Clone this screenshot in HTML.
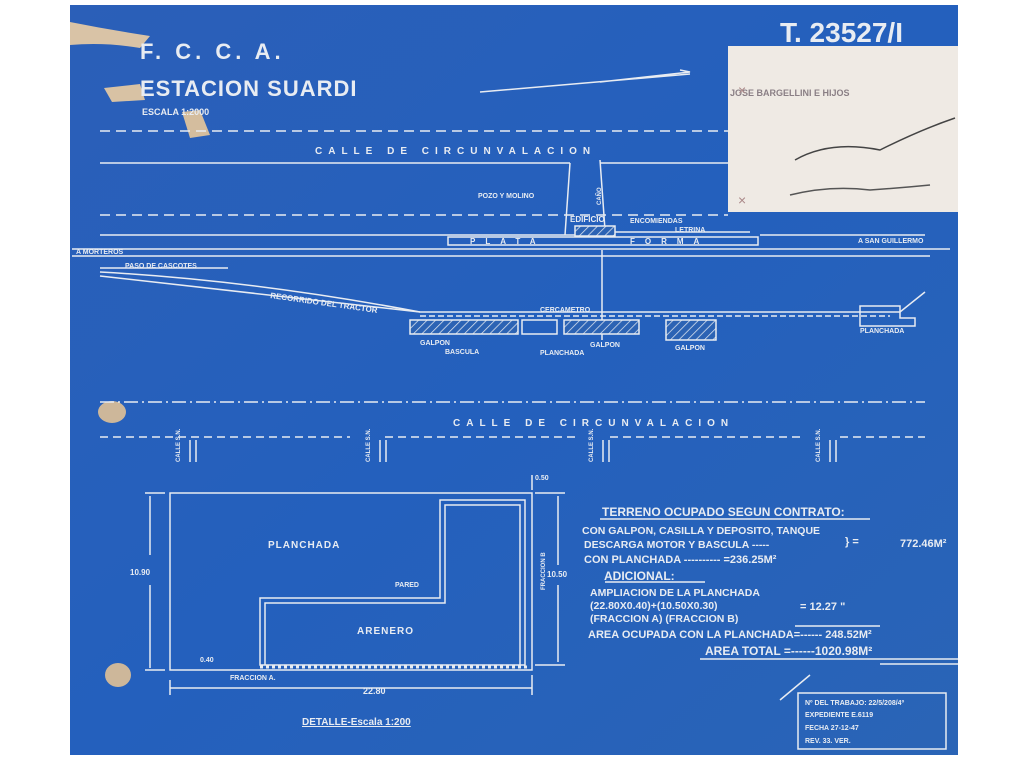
<!DOCTYPE html>
<html><head><meta charset="utf-8"><style>
html,body{margin:0;padding:0;background:#fff;width:1024px;height:759px;overflow:hidden}
svg{display:block}
text{font-family:"Liberation Sans",sans-serif;fill:#e8ecf2;font-weight:bold}
</style></head><body>
<svg width="1024" height="759" viewBox="0 0 1024 759">
<defs>
<pattern id="h" width="6" height="6" patternUnits="userSpaceOnUse" patternTransform="rotate(45)"><rect width="6" height="6" fill="#2c63b4"/><line x1="0" y1="0" x2="0" y2="6" stroke="#dfe6f0" stroke-width="1.5"/></pattern>
<linearGradient id="bg" x1="0" y1="0" x2="1" y2="1"><stop offset="0" stop-color="#2b5fb8"/><stop offset="0.5" stop-color="#2460bd"/><stop offset="1" stop-color="#2a64b6"/></linearGradient>
</defs>
<rect x="70" y="5" width="888" height="750" fill="url(#bg)"/>
<!-- tears -->
<path d="M70 22 Q110 30 150 36 L140 48 Q105 42 70 45Z" fill="#d9c3a6"/>
<path d="M104 88 L140 84 L145 100 L112 102Z" fill="#d8c2a4"/>
<path d="M182 112 L200 110 L210 135 L190 138Z" fill="#d4bd9e"/>
<ellipse cx="112" cy="412" rx="14" ry="11" fill="#cdb79a"/>
<ellipse cx="118" cy="675" rx="13" ry="12" fill="#cdb79a"/>
<!-- white label card -->
<rect x="728" y="46" width="230" height="166" fill="#efeae4"/>
<text x="730" y="96" font-size="9" style="fill:#8a7f85">JOSE BARGELLINI E HIJOS</text>
<path d="M795 160 Q830 140 880 150 Q920 130 955 118" stroke="#444" stroke-width="1.5" fill="none"/>
<path d="M790 195 Q830 185 870 190 Q900 188 930 185" stroke="#555" stroke-width="1.5" fill="none"/>
<text x="738" y="95" font-size="14" style="fill:#a88;font-weight:normal">×</text>
<text x="738" y="205" font-size="14" style="fill:#a88;font-weight:normal">×</text>
<text x="780" y="42" font-size="28">T. 23527/I</text>
<text x="140" y="59" font-size="22" letter-spacing="4">F. C. C. A.</text>
<text x="140" y="96" font-size="22" letter-spacing="1">ESTACION SUARDI</text>
<text x="142" y="115" font-size="9">ESCALA 1:2000</text>
<path d="M480 92 L690 74 M600 82 L690 72 L680 70" stroke="#e8ecf2" stroke-width="1.5" fill="none"/>
<g stroke="#e8ecf2" stroke-width="1.5" fill="none">
<line x1="100" y1="131" x2="728" y2="131" stroke-dasharray="10 6"/>
<line x1="100" y1="163" x2="570" y2="163"/>
<line x1="600" y1="163" x2="728" y2="163"/>
<line x1="100" y1="215" x2="728" y2="215" stroke-dasharray="10 6"/>
<path d="M570 163 L565 235 M600 160 L605 230"/>
<line x1="100" y1="235" x2="575" y2="235"/>
<line x1="610" y1="232" x2="750" y2="232"/>
<line x1="760" y1="235" x2="925" y2="235"/>
<rect x="448" y="237" width="310" height="8"/>
<rect x="575" y="226" width="40" height="10" fill="url(#h)"/>
<line x1="72" y1="249" x2="950" y2="249"/>
<line x1="72" y1="256" x2="930" y2="256"/>
<line x1="100" y1="268" x2="228" y2="268"/>
<path d="M100 272 Q250 280 420 312 L900 312 L925 292"/>
<line x1="100" y1="276" x2="420" y2="312"/>
<line x1="420" y1="316" x2="890" y2="316" stroke-dasharray="6 3"/>
<path d="M860 306 L900 306 L900 318 L915 318 L915 326 L860 326Z"/>
<line x1="602" y1="250" x2="602" y2="340"/>
<rect x="410" y="320" width="108" height="14" fill="url(#h)"/>
<rect x="522" y="320" width="35" height="14"/>
<rect x="564" y="320" width="75" height="14" fill="url(#h)"/>
<rect x="666" y="320" width="50" height="20" fill="url(#h)"/>
<line x1="100" y1="402" x2="925" y2="402" stroke-dasharray="14 4 2 4"/>
<path d="M100 437 L350 437 M385 437 L575 437 M610 437 L805 437 M840 437 L925 437" stroke-dasharray="8 5"/>
<line x1="190" y1="440" x2="190" y2="462"/><line x1="196" y1="440" x2="196" y2="462"/>
<line x1="380" y1="440" x2="380" y2="462"/><line x1="386" y1="440" x2="386" y2="462"/>
<line x1="603" y1="440" x2="603" y2="462"/><line x1="609" y1="440" x2="609" y2="462"/>
<line x1="830" y1="440" x2="830" y2="462"/><line x1="836" y1="440" x2="836" y2="462"/>
<!-- detail -->
<path d="M170 493 L532 493 L532 670 L170 670 Z"/>
<path d="M260 665 L260 598 L440 598 L440 500 L525 500 L525 665 Z"/>
<path d="M265 665 L265 603 L445 603 L445 505 L520 505 L520 665"/>
<line x1="260" y1="667" x2="530" y2="667" stroke-dasharray="3 3" stroke-width="3"/>
<line x1="145" y1="493" x2="165" y2="493"/><line x1="145" y1="670" x2="165" y2="670"/>
<line x1="150" y1="496" x2="150" y2="555"/><line x1="150" y1="585" x2="150" y2="668"/>
<line x1="170" y1="688" x2="532" y2="688"/>
<line x1="170" y1="680" x2="170" y2="695"/><line x1="532" y1="675" x2="532" y2="695"/>
<line x1="535" y1="493" x2="565" y2="493"/><line x1="535" y1="665" x2="565" y2="665"/>
<line x1="558" y1="496" x2="558" y2="565"/><line x1="558" y1="585" x2="558" y2="662"/>
<line x1="532" y1="475" x2="532" y2="490"/>
<line x1="600" y1="519" x2="870" y2="519"/>
<line x1="605" y1="582" x2="705" y2="582"/>
<line x1="795" y1="626" x2="880" y2="626"/>
<line x1="700" y1="659" x2="958" y2="659"/>
<line x1="880" y1="664" x2="958" y2="664"/>
<rect x="798" y="693" width="148" height="56"/>
<path d="M780 700 L810 675"/>
</g>
<g font-size="8">
<text x="315" y="154" font-size="10" letter-spacing="6">CALLE DE CIRCUNVALACION</text>
<text x="478" y="198" font-size="7">POZO Y MOLINO</text>
<text x="570" y="222">EDIFICIO</text>
<text x="630" y="223" font-size="7">ENCOMIENDAS</text>
<text x="675" y="232" font-size="7">LETRINA</text>
<text x="470" y="244" font-size="8" letter-spacing="10">PLATA</text>
<text x="630" y="244" font-size="8" letter-spacing="10">FORMA</text>
<text x="76" y="254" font-size="7">A MORTEROS</text>
<text x="858" y="243" font-size="7">A SAN GUILLERMO</text>
<text x="125" y="268" font-size="7">PASO DE CASCOTES</text>
<text x="270" y="298" font-size="8" transform="rotate(8 270 298)">RECORRIDO DEL TRACTOR</text>
<text x="540" y="312" font-size="7">CERCAMETRO</text>
<text x="420" y="345" font-size="7">GALPON</text>
<text x="445" y="354" font-size="7">BASCULA</text>
<text x="540" y="355" font-size="7">PLANCHADA</text>
<text x="590" y="347" font-size="7">GALPON</text>
<text x="675" y="350" font-size="7">GALPON</text>
<text x="860" y="333" font-size="7">PLANCHADA</text>
<text x="453" y="426" font-size="10" letter-spacing="6">CALLE DE CIRCUNVALACION</text>
<text x="268" y="548" font-size="10" letter-spacing="1">PLANCHADA</text>
<text x="357" y="634" font-size="10" letter-spacing="1">ARENERO</text>
<text x="395" y="587" font-size="7">PARED</text>
<text x="130" y="575" font-size="8">10.90</text>
<text x="547" y="577" font-size="8">10.50</text>
<text x="363" y="694" font-size="9">22.80</text>
<text x="200" y="662" font-size="7">0.40</text>
<text x="230" y="680" font-size="7">FRACCION A.</text>
<text x="535" y="480" font-size="7">0.50</text>
<text x="302" y="725" font-size="10" text-decoration="underline">DETALLE-Escala 1:200</text>
<text x="602" y="516" font-size="12">TERRENO OCUPADO SEGUN CONTRATO:</text>
<text x="582" y="534" font-size="10.5">CON GALPON, CASILLA Y DEPOSITO, TANQUE</text>
<text x="584" y="548" font-size="10.5">DESCARGA MOTOR Y BASCULA -----</text>
<text x="845" y="545" font-size="11">}  =</text>
<text x="900" y="547" font-size="11">772.46M²</text>
<text x="584" y="563" font-size="11">CON PLANCHADA ---------- =236.25M²</text>
<text x="604" y="580" font-size="12">ADICIONAL:</text>
<text x="590" y="596" font-size="10.5">AMPLIACION DE LA PLANCHADA</text>
<text x="590" y="609" font-size="10.5">(22.80X0.40)+(10.50X0.30)</text>
<text x="590" y="622" font-size="10.5">(FRACCION A)   (FRACCION B)</text>
<text x="800" y="610" font-size="11">= 12.27 "</text>
<text x="588" y="638" font-size="11">AREA OCUPADA CON LA PLANCHADA=------  248.52M²</text>
<text x="705" y="655" font-size="12">AREA TOTAL  =------1020.98M²</text>
<text x="805" y="705" font-size="7">Nº DEL TRABAJO: 22/5/208/4º</text>
<text x="805" y="717" font-size="7">EXPEDIENTE E.6119</text>
<text x="805" y="730" font-size="7">FECHA  27-12-47</text>
<text x="805" y="743" font-size="7">REV. 33. VER.</text>
</g>
<g font-size="6">
<text transform="translate(180 462) rotate(-90)">CALLE S.N.</text>
<text transform="translate(370 462) rotate(-90)">CALLE S.N.</text>
<text transform="translate(593 462) rotate(-90)">CALLE S.N.</text>
<text transform="translate(820 462) rotate(-90)">CALLE S.N.</text>
<text transform="translate(545 590) rotate(-90)">FRACCION B</text>
<text transform="translate(601 205) rotate(-90)">CAÑO</text>
</g>
</svg>
</body></html>
